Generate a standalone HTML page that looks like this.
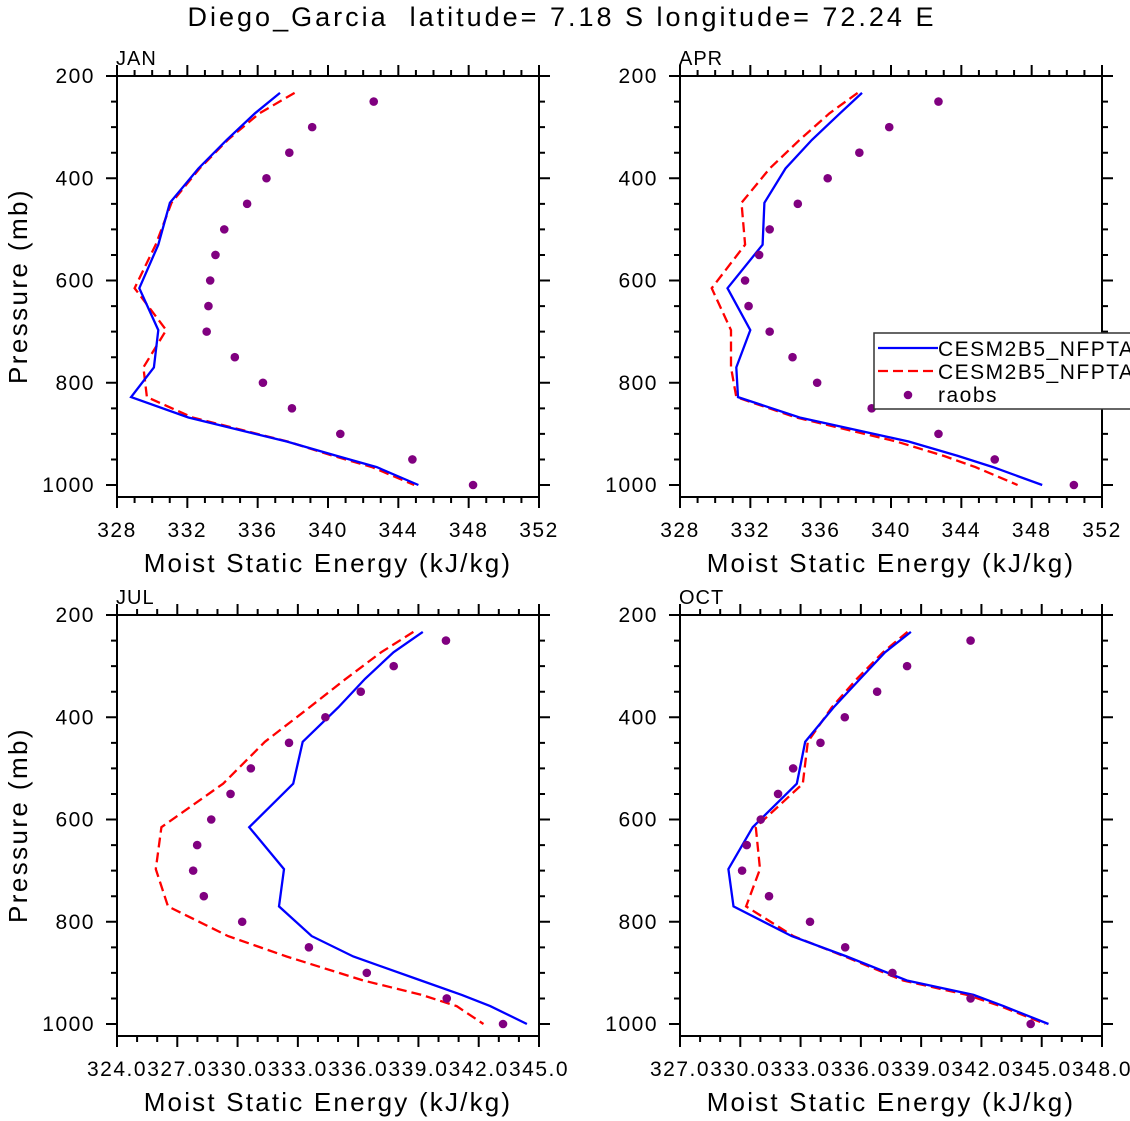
<!DOCTYPE html>
<html><head><meta charset="utf-8"><style>
html,body{margin:0;padding:0;background:#fff;}
svg{display:block;font-family:"Liberation Sans",sans-serif;}
</style></head><body>
<svg id="chart" width="1130" height="1121" viewBox="0 0 1130 1121">
<text x="562" y="26" font-size="27" letter-spacing="3" text-anchor="middle" fill="#000" xml:space="preserve">Diego_Garcia  latitude= 7.18 S longitude= 72.24 E</text>
</svg>
<script>
const modelLevels=[233,273,325,381,448,530,615,697,770,828,868,915,943,965,1000];
const obsLevels=[250,300,350,400,450,500,550,600,650,700,750,800,850,900,950,1000];
const janBlue=[337.27,335.85,334.24,332.63,331.01,330.35,329.27,330.35,330.1,328.8,332.06,337.65,340.5,342.77,345.14];
const janRed=[338.1,336.1,334.3,332.7,331.1,330.2,329.0,330.8,329.5,329.7,332.3,337.7,340.3,342.5,344.9];
const janObs=[342.6,339.1,337.8,336.5,335.4,334.1,333.6,333.3,333.2,333.1,334.7,336.3,337.95,340.7,344.8,348.25];
const aprBlue=[338.35,337.1,335.5,334.0,332.8,332.7,330.7,332.0,331.2,331.3,334.8,341.0,343.8,345.8,348.6];
const aprRed=[338.1,336.5,334.8,333.1,331.5,331.7,329.8,330.9,330.9,331.2,334.6,340.3,343.0,344.8,347.2];
const aprObs=[342.7,339.9,338.2,336.4,334.7,333.1,332.5,331.7,331.9,333.1,334.4,335.8,338.9,342.7,345.9,350.4];
const julBlue=[339.22,337.76,336.34,335.01,333.24,332.77,330.58,332.31,332.06,333.69,335.76,339.13,341.16,342.57,344.4];
const julRed=[338.75,337.14,335.38,333.57,331.36,329.28,326.21,325.93,326.54,329.53,332.44,336.26,339.17,340.9,342.24];
const julObs=[340.37,337.77,336.13,334.37,332.56,330.66,329.65,328.69,327.99,327.79,328.32,330.23,333.55,336.43,340.41,343.21];
const octBlue=[338.49,337.2,335.96,334.64,333.23,332.81,330.62,329.41,329.66,332.56,335.3,338.29,341.61,343.1,345.34];
const octRed=[338.32,337.1,335.8,334.55,333.36,333.11,330.77,330.98,330.29,332.64,335.2,338.1,341.28,342.94,345.18];
const octObs=[341.46,338.3,336.81,335.2,333.99,332.63,331.88,331.02,330.32,330.09,331.43,333.47,335.22,337.57,341.46,344.45];
const pTicks=[200,400,600,800,1000];
const panelNames=["JAN","APR","JUL","OCT"];
const xMins=[328,328,324,327];
const xMaxs=[352,352,345,348];
const xSteps=[4,4,3,3];
const xDecimals=[0,0,1,1];

const NS="http://www.w3.org/2000/svg";
const svg=document.getElementById('chart');
function mk(tag,attrs,parent){const e=document.createElementNS(NS,tag);for(const k in attrs)e.setAttribute(k,attrs[k]);(parent||svg).appendChild(e);return e;}
const blues=[janBlue,aprBlue,julBlue,octBlue],reds=[janRed,aprRed,julRed,octRed],obss=[janObs,aprObs,julObs,octObs];
const lefts=[117,680,117,680],tops=[76,76,615,615];
const W=422,H=421,PXMB=0.51125;

for(let i=0;i<4;i++){
  const L=lefts[i],T=tops[i],x0=xMins[i],x1=xMaxs[i];
  const xs=v=>L+(v-x0)/(x1-x0)*W;
  const ys=p=>T+(p-200)*PXMB;
  const g=mk('g',{});
  
  
  const lab=mk('text',{x:L-1,y:T-11,'font-size':20,'letter-spacing':1,fill:'#000'},g);lab.textContent=panelNames[i];
  
  
  let d='';
  for(let v=x0;v<=x1+1e-6;v+=1){const x=xs(v);const maj=Math.abs(((v-x0)/xSteps[i])-Math.round((v-x0)/xSteps[i]))<1e-6;const len=maj?11:6;
    d+=`M${x},${T+H}v${len}M${x},${T}v${-len}`;}
  for(let p=200;p<=1000;p+=50){const y=ys(p);const len=(p%200===0)?11:6;d+=`M${L},${y}h${-len}M${L+W},${y}h${len}`;}
  const tk=mk('path',{d:d,stroke:'#000','stroke-width':2,fill:'none'},g);
  
  
  for(let v=x0;v<=x1+1e-6;v+=xSteps[i]){
    const t=mk('text',{x:xs(v),y:T+H+40,'font-size':21,'letter-spacing':1.5,'text-anchor':'middle',fill:'#000'},g);t.textContent=v.toFixed(xDecimals[i]);
    
    
  }
  for(const p of pTicks){
    const t=mk('text',{x:L-22,y:ys(p)+7,'font-size':21,'letter-spacing':1.5,'text-anchor':'end',fill:'#000'},g);t.textContent=p;
    
    
  }
  const xt=mk('text',{x:L+W/2,y:T+H+75,'font-size':26,'text-anchor':'middle',fill:'#000','letter-spacing':'2.2'},g);xt.textContent='Moist Static Energy (kJ/kg)';
  
  
  if(i%2===0){
    const yt=mk('text',{x:0,y:0,'font-size':26,'text-anchor':'middle',fill:'#000','letter-spacing':'2.4',transform:`translate(27,${T+210}) rotate(-90)`},g);yt.textContent='Pressure (mb)';
    
    
  }
  const pts=a=>a.map((v,k)=>xs(v).toFixed(1)+','+ys(modelLevels[k]).toFixed(1)).join(' ');
  const rl=mk('polyline',{points:pts(reds[i]),fill:'none',stroke:'#ff0000','stroke-width':2.3,'stroke-dasharray':'10,5'},g);
  
  
  const bl=mk('polyline',{points:pts(blues[i]),fill:'none',stroke:'#0000ff','stroke-width':2.3},g);
  
  
  obss[i].forEach((v,k)=>{
    const c=mk('circle',{cx:xs(v),cy:ys(obsLevels[k]),r:4.3,fill:'#800080'},g);
    
    
  });
  const box=mk('rect',{x:L,y:T,width:W,height:H,fill:'none',stroke:'#000','stroke-width':2},g);
  
  
}
const lg=mk('g',{});


mk('rect',{x:874,y:333,width:270,height:76,fill:'#fff',stroke:'#333','stroke-width':1.5},lg);
const l1=mk('line',{x1:878,y1:348,x2:938,y2:348,stroke:'#0000ff','stroke-width':2.3},lg);


const l2=mk('line',{x1:878,y1:371,x2:938,y2:371,stroke:'#ff0000','stroke-width':2.3,'stroke-dasharray':'10,5'},lg);


const l3=mk('circle',{cx:908,cy:395,r:4.3,fill:'#800080'},lg);


[['CESM2B5_NFPTA',356],['CESM2B5_NFPTA',379],['raobs',402]].forEach(([s,y])=>{
  const t=mk('text',{x:938,y:y,'font-size':21,fill:'#000','letter-spacing':'1.5'},lg);t.textContent=s;
  
  
});
</script>
</body></html>
